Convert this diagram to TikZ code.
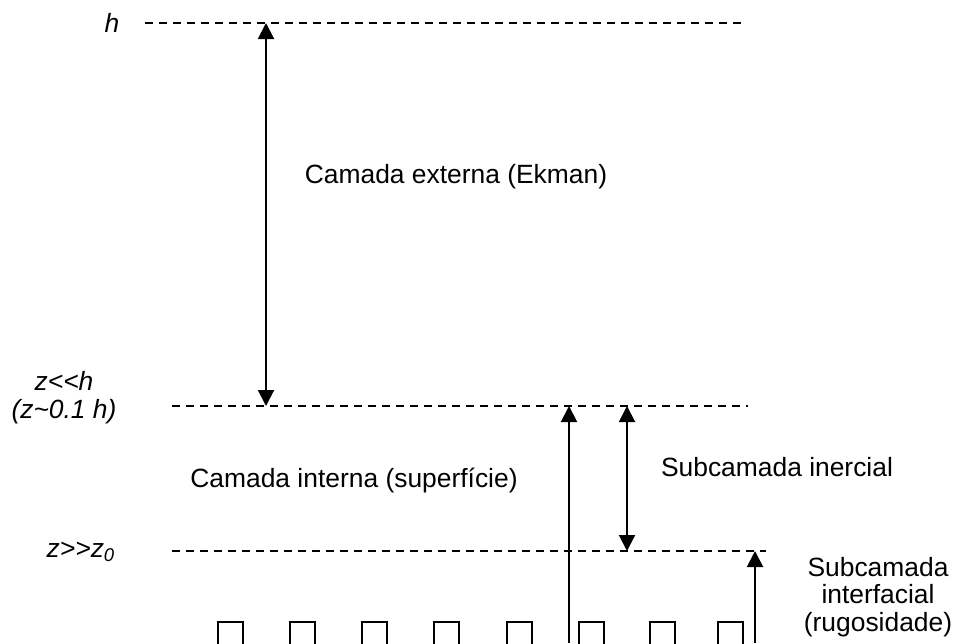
\documentclass[tikz,border=0pt]{standalone}
\usepackage{fontspec}
\setmainfont{Liberation Sans}
\usetikzlibrary{arrows.meta}

\tikzset{
  level/.style={line width=0.6pt,dash pattern=on 4pt off 3pt},
  span/.style={line width=1pt,{Triangle[length=8pt,width=8pt]}-{Triangle[length=8pt,width=8pt]}},
  rise/.style={line width=1pt,-{Triangle[length=8pt,width=8pt]}},
  lbl/.style={font=\fontsize{13.2}{13.6}\selectfont,inner sep=0pt,align=center},
  zlbl/.style={lbl,font=\fontsize{13.2}{14}\selectfont\itshape},
  grain/.style={line width=0.8pt}
}

\begin{document}
\begin{tikzpicture}[x=0.5pt,y=-0.5pt]
\useasboundingbox (0,0) rectangle (956,643);

% levels
        \coordinate (h_w) at (145,23);  \coordinate (h_e) at (745,23);
        \coordinate (zh_w) at (172,406); \coordinate (zh_e) at (748,406);
        \coordinate (zz_w) at (172,551); \coordinate (zz_e) at (766,551);
        \draw[level] (h_w) -- (h_e);
        \draw[level] (zh_w) -- (zh_e);
        \draw[level] (zz_w) -- (zz_e);

        \node[zlbl] (h_label) at (112,23) {h};
        \node[zlbl] (zh_label) at (64,398) {z<\kern0pt<\kern0pt h\\(z\textasciitilde0.1 h)};
        \node[zlbl] (zz_label) at (81,552) {z>\kern0pt>\kern0pt z\textsubscript{0}};

% layers
        \node[lbl] (ekman_label) at (456,177) {Camada externa (Ekman)};
        \node[lbl] (inner_label) at (354,481) {Camada interna (superfície)};
        \node[lbl] (inertial_label) at (777,467) {Subcamada inercial};
        \node[lbl] (rough_label) at (878,597) {Subcamada\\interfacial\\(rugosidade)};

% arrows
        \coordinate (ekman_top) at (266,23);   \coordinate (ekman_bot) at (266,406);
        \coordinate (inner_top) at (569,406);  \coordinate (inner_bot) at (569,643);
        \coordinate (inert_top) at (627,406);  \coordinate (inert_bot) at (627,551);
        \coordinate (rough_top) at (755,551);  \coordinate (rough_bot) at (755,643);
        \draw[span] (ekman_top) -- (ekman_bot);
        \draw[rise] (inner_bot) -- (inner_top);
        \draw[span] (inert_top) -- (inert_bot);
        \draw[rise] (rough_bot) -- (rough_top);

% roughness elements
        \foreach \x in {218,290,362,434,507,579,650,718}
            \draw[grain] (\x,645) -- (\x,622) -- (\x+25,622) -- (\x+25,645);

\end{tikzpicture}
\end{document}
